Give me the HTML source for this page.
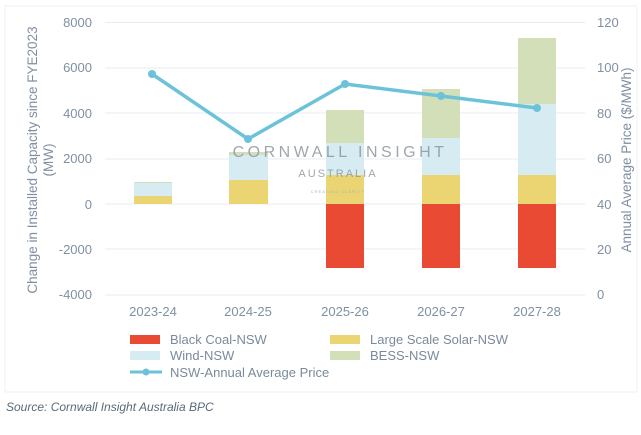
<!DOCTYPE html>
<html><head><style>
body{margin:0;background:#fff;width:641px;height:430px;overflow:hidden;font-family:"Liberation Sans",sans-serif}
</style></head><body>
<svg width="641" height="430" xmlns="http://www.w3.org/2000/svg" font-family="Liberation Sans, sans-serif">
<rect x="5" y="6" width="632" height="386" fill="none" stroke="#eef1f4"/>
<g stroke="#e6ecf1" stroke-width="1">
<line x1="105" x2="585" y1="22.5" y2="22.5"/><line x1="105" x2="585" y1="68" y2="68"/>
<line x1="105" x2="585" y1="113" y2="113"/><line x1="105" x2="585" y1="159" y2="159"/>
<line x1="105" x2="585" y1="204" y2="204"/><line x1="105" x2="585" y1="249" y2="249"/>
<line x1="105" x2="585" y1="295" y2="295"/>
</g>
<g fill="#8090a2" font-size="13" text-anchor="end">
<text x="92" y="27">8000</text><text x="92" y="72">6000</text><text x="92" y="118">4000</text>
<text x="92" y="163">2000</text><text x="92" y="209">0</text><text x="92" y="254">-2000</text><text x="92" y="299">-4000</text>
</g>
<g fill="#8090a2" font-size="13" text-anchor="start">
<text x="597" y="27">120</text><text x="597" y="72">100</text><text x="597" y="118">80</text>
<text x="597" y="163">60</text><text x="597" y="209">40</text><text x="597" y="254">20</text><text x="597" y="299">0</text>
</g>
<g fill="#8090a2" font-size="13" text-anchor="middle">
<text x="153" y="316">2023-24</text><text x="248" y="316">2024-25</text><text x="345" y="316">2025-26</text>
<text x="441" y="316">2026-27</text><text x="537" y="316">2027-28</text>
</g>
<text transform="translate(37,160) rotate(-90)" fill="#8090a2" font-size="13.5" text-anchor="middle">Change in Installed Capacity since FYE2023</text>
<text transform="translate(53,160) rotate(-90)" fill="#8090a2" font-size="13.5" text-anchor="middle">(MW)</text>
<text transform="translate(631,160) rotate(-90)" fill="#8090a2" font-size="13.5" text-anchor="middle">Annual Average Price ($/MWh)</text>
<g>
<rect x="134" y="196" width="38" height="8" fill="#ebd472"/><rect x="134" y="183" width="38" height="13" fill="#d6ebf2"/><rect x="134" y="182" width="38" height="1" fill="#d3dfb9"/>
<rect x="229" y="180" width="39" height="24" fill="#ebd472"/><rect x="229" y="155" width="39" height="25" fill="#d6ebf2"/><rect x="229" y="152" width="39" height="3" fill="#d3dfb9"/>
<rect x="326" y="204" width="38" height="64" fill="#e84a33"/><rect x="326" y="175" width="38" height="29" fill="#ebd472"/><rect x="326" y="143" width="38" height="32" fill="#d6ebf2"/><rect x="326" y="110" width="38" height="33" fill="#d3dfb9"/>
<rect x="422" y="204" width="38" height="64" fill="#e84a33"/><rect x="422" y="175" width="38" height="29" fill="#ebd472"/><rect x="422" y="138" width="38" height="37" fill="#d6ebf2"/><rect x="422" y="89" width="38" height="49" fill="#d3dfb9"/>
<rect x="518" y="204" width="38" height="64" fill="#e84a33"/><rect x="518" y="175" width="38" height="29" fill="#ebd472"/><rect x="518" y="104" width="38" height="71" fill="#d6ebf2"/><rect x="518" y="38" width="38" height="66" fill="#d3dfb9"/>
</g>
<text x="340" y="157" fill="#8e989f" font-size="16" letter-spacing="3.5" text-anchor="middle" opacity="0.85">CORNWALL INSIGHT</text>
<text x="338" y="177" fill="#8e989f" font-size="11" letter-spacing="2" text-anchor="middle" opacity="0.85">AUSTRALIA</text>
<text x="338" y="193" fill="#aab2b8" font-size="4" letter-spacing="1" text-anchor="middle">CREATING CLARITY</text>
<polyline points="152,74 248,139 345,84 441,96 537,108" fill="none" stroke="#6cc3d9" stroke-width="3.5" stroke-linejoin="round"/>
<g fill="#6cc3d9"><circle cx="152" cy="74" r="4"/><circle cx="248" cy="139" r="4"/><circle cx="345" cy="84" r="4"/><circle cx="441" cy="96" r="4"/><circle cx="537" cy="108" r="4"/></g>
<g font-size="13" fill="#7a8a9b">
<rect x="130" y="335" width="30" height="9" fill="#e84a33"/><text x="170" y="344">Black Coal-NSW</text>
<rect x="330" y="335" width="30" height="9" fill="#ebd472"/><text x="370" y="344">Large Scale Solar-NSW</text>
<rect x="130" y="351" width="30" height="9" fill="#d6ebf2"/><text x="170" y="360">Wind-NSW</text>
<rect x="330" y="351" width="30" height="9" fill="#d3dfb9"/><text x="370" y="360">BESS-NSW</text>
<line x1="130" x2="162" y1="372" y2="372" stroke="#6cc3d9" stroke-width="3"/><circle cx="146" cy="372" r="3.5" fill="#6cc3d9"/><text x="170" y="377">NSW-Annual Average Price</text>
</g>
<text x="6" y="411" font-size="12" font-style="italic" fill="#5a6a7a">Source: Cornwall Insight Australia BPC</text>
</svg>
</body></html>
